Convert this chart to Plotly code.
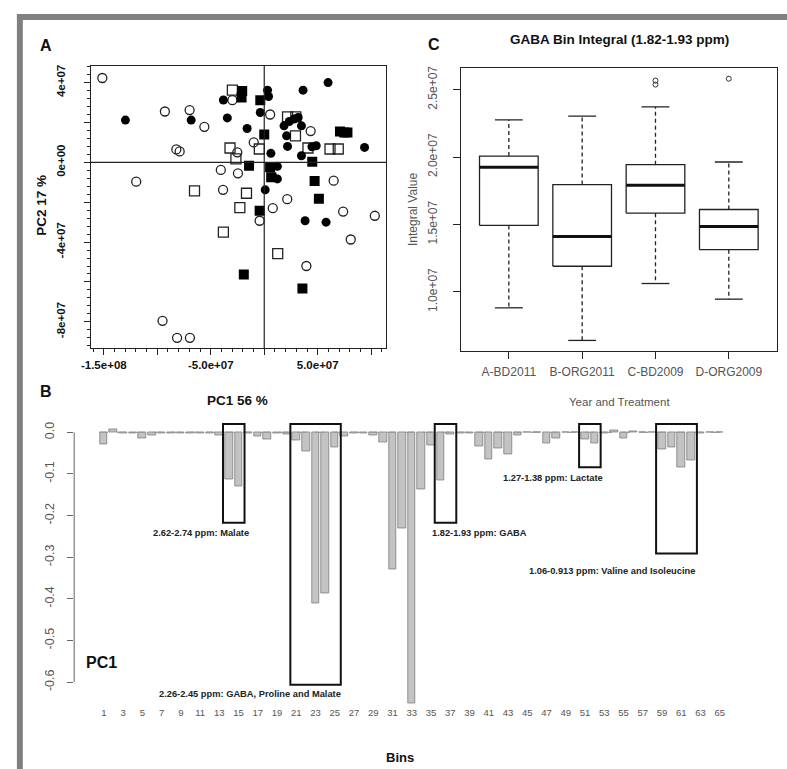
import plotly.graph_objects as go

W, H = 787, 769
FONT = "Liberation Sans, Arial, sans-serif"


def fx(p):
    return p / W


def fy(p):
    return 1 - p / H


# ---------------- Panel A: PCA scores ----------------
open_circle_pc1 = [-15.14e7, -9.29e7, -6.98e7, -5.60e7, -8.22e7, -7.91e7, -11.97e7, -9.51e7, -8.15e7,
                   -6.95e7, -4.06e7, -3.85e7, -2.52e7, -2.46e7, -0.98e7, 0.55e7, 4.34e7, 0.80e7,
                   2.15e7, -0.43e7, 6.49e7, 7.38e7, 10.34e7, 8.09e7, 3.94e7, -2.98e7]
open_circle_pc2 = [4.23e7, 2.55e7, 2.62e7, 1.78e7, 0.65e7, 0.55e7, -0.97e7, -7.95e7, -8.80e7,
                   -8.80e7, -0.38e7, -1.38e7, 0.50e7, -0.55e7, 1.00e7, 2.40e7, 1.57e7, -2.30e7,
                   -1.85e7, -2.93e7, -0.92e7, -2.47e7, -2.68e7, -3.87e7, -5.20e7, 3.12e7]

filled_circle_pc1 = [-12.98e7, -6.83e7, -3.82e7, -3.45e7, -1.60e7, 0.31e7, 0.40e7, -0.37e7, 3.63e7,
                     5.97e7, 1.85e7, 2.34e7, 2.77e7, 3.17e7, 3.48e7, 2.09e7, 2.18e7, 4.46e7,
                     4.86e7, 3.48e7, 0.62e7, 1.23e7, 0.86e7, 1.23e7, 0.09e7, 9.38e7, 3.82e7, 5.78e7]
filled_circle_pc2 = [2.12e7, 2.12e7, 3.13e7, 2.23e7, 1.70e7, 3.62e7, 3.30e7, 2.50e7, 3.62e7,
                     4.00e7, 1.83e7, 2.05e7, 2.17e7, 2.25e7, 1.83e7, 1.33e7, 0.80e7, 0.78e7,
                     0.83e7, 0.33e7, 0.45e7, -0.20e7, -0.75e7, -0.83e7, -1.38e7, 0.75e7, -2.93e7, -3.00e7]

filled_square_pc1 = [-2.06e7, -2.12e7, -0.37e7, 0.00e7, -1.42e7, 0.55e7, 0.65e7, 4.49e7, 4.71e7,
                     5.11e7, -0.43e7, -1.91e7, 3.57e7, 7.08e7, 7.48e7, 7.78e7]
filled_square_pc2 = [3.58e7, 3.25e7, 3.12e7, 1.40e7, -0.17e7, -0.25e7, -0.75e7, 0.03e7, -0.93e7,
                     -1.83e7, -2.43e7, -5.63e7, -6.33e7, 1.55e7, 1.50e7, 1.50e7]

open_square_pc1 = [-2.98e7, -3.20e7, -2.65e7, -0.46e7, -6.52e7, -1.66e7, -2.28e7, -3.82e7, 1.26e7,
                   2.18e7, 2.95e7, 2.92e7, 6.15e7, 6.92e7, 4.09e7]
open_square_pc2 = [3.62e7, 0.72e7, 0.17e7, 0.67e7, -1.43e7, -1.55e7, -2.27e7, -3.50e7, -4.58e7,
                   2.28e7, 2.28e7, 1.33e7, 0.67e7, 0.67e7, 0.72e7]

pc1_ticks = [-1.5e8, -1e8, -5e7, 0, 5e7, 1e8]
pc1_labels = ["-1.5e+08", "", "-5.0e+07", "", "5.0e+07", ""]
pc2_ticks = [-8e7, -6e7, -4e7, -2e7, 0, 2e7, 4e7]
pc2_labels = ["-8e+07", "", "-4e+07", "", "0e+00", "", "4e+07"]

# ---------------- Panel B: PC1 loadings per bin ----------------
bins = list(range(1, 66))
pc1_loadings = [
    -0.028, 0.008, -0.003, -0.002, -0.015, -0.007, -0.002, -0.002, -0.002, -0.002,
    -0.002, -0.002, -0.007, -0.114, -0.131, -0.002, -0.009, -0.018, -0.002, -0.006,
    -0.019, -0.045, -0.410, -0.387, -0.037, -0.010, -0.002, -0.002, -0.008, -0.023,
    -0.329, -0.231, -0.650, -0.137, -0.032, -0.116, -0.006, -0.002, -0.002, -0.034,
    -0.064, -0.039, -0.052, -0.008, -0.001, -0.001, -0.026, -0.015, -0.001, -0.001,
    -0.018, -0.026, -0.002, 0.004, -0.015, 0.002, -0.001, -0.001, -0.040, -0.036,
    -0.083, -0.068, -0.002, -0.001, -0.001,
]
bin_ticks = list(range(1, 66, 2))
loading_ticks = [0.0, -0.1, -0.2, -0.3, -0.4, -0.5, -0.6]
loading_labels = ["0.0", "-0.1", "-0.2", "-0.3", "-0.4", "-0.5", "-0.6"]

# highlighted spectral regions: (first bin, last bin, lower edge, label)
regions = [
    (14, 15, -0.217, "2.62-2.74 ppm: Malate"),
    (21, 25, -0.606, "2.26-2.45 ppm: GABA, Proline and Malate"),
    (36, 37, -0.217, "1.82-1.93 ppm: GABA"),
    (51, 52, -0.084, "1.27-1.38 ppm: Lactate"),
    (59, 62, -0.291, "1.06-0.913 ppm: Valine and Isoleucine"),
]
region_label_px = [(193, 532), (243, 694), (476, 532), (550, 477), (610, 570)]

# ---------------- Panel C: GABA bin integral boxplots ----------------
groups = ["A-BD2011", "B-ORG2011", "C-BD2009", "D-ORG2009"]
whisker_low = [8.82e6, 6.40e6, 10.62e6, 9.46e6]
q1 = [14.93e6, 11.90e6, 15.84e6, 13.13e6]
median = [19.24e6, 14.11e6, 17.91e6, 14.85e6]
q3 = [20.07e6, 17.96e6, 19.43e6, 16.11e6]
whisker_high = [22.76e6, 23.03e6, 23.72e6, 19.63e6]
outlier_group = [3, 3, 4]
outlier_value = [25.67e6, 25.37e6, 25.81e6]
integral_ticks = [1.0e7, 1.5e7, 2.0e7, 2.5e7]
integral_labels = ["1.0e+07", "1.5e+07", "2.0e+07", "2.5e+07"]

fig = go.Figure()

# ----- A -----
fig.add_trace(go.Scatter(x=open_circle_pc1, y=open_circle_pc2, mode="markers", xaxis="x", yaxis="y",
                         marker=dict(symbol="circle-open", color="#222", line=dict(width=1.3), size=9)))
fig.add_trace(go.Scatter(x=open_square_pc1, y=open_square_pc2, mode="markers", xaxis="x", yaxis="y",
                         marker=dict(symbol="square-open", color="#222", line=dict(width=1.3), size=10)))
fig.add_trace(go.Scatter(x=filled_circle_pc1, y=filled_circle_pc2, mode="markers", xaxis="x", yaxis="y",
                         marker=dict(symbol="circle", color="#000", size=9)))
fig.add_trace(go.Scatter(x=filled_square_pc1, y=filled_square_pc2, mode="markers", xaxis="x", yaxis="y",
                         marker=dict(symbol="square", color="#000", size=10)))

# ----- B -----
fig.add_trace(go.Scatter(x=[0.5, 65.5], y=[0, 0], mode="lines", xaxis="x3", yaxis="y3",
                         line=dict(color="#9a9a9a", width=1.2, dash="dash")))
fig.add_trace(go.Bar(x=bins, y=pc1_loadings, xaxis="x3", yaxis="y3", width=0.8,
                     marker=dict(color="#c3c3c3", line=dict(color="#7d7d7d", width=0.8))))

# ----- C -----
box_x, box_y, med_x, med_y = [], [], [], []
wh_x, wh_y, cap_x, cap_y = [], [], [], []
for i in range(len(groups)):
    c = i + 1
    box_x += [c - 0.4, c + 0.4, c + 0.4, c - 0.4, c - 0.4, None]
    box_y += [q1[i], q1[i], q3[i], q3[i], q1[i], None]
    med_x += [c - 0.4, c + 0.4, None]
    med_y += [median[i], median[i], None]
    wh_x += [c, c, None, c, c, None]
    wh_y += [q3[i], whisker_high[i], None, q1[i], whisker_low[i], None]
    cap_x += [c - 0.19, c + 0.19, None, c - 0.19, c + 0.19, None]
    cap_y += [whisker_high[i], whisker_high[i], None, whisker_low[i], whisker_low[i], None]

fig.add_trace(go.Scatter(x=wh_x, y=wh_y, mode="lines", xaxis="x2", yaxis="y2",
                         line=dict(color="#222", width=1.3, dash="4px,3px")))
fig.add_trace(go.Scatter(x=cap_x, y=cap_y, mode="lines", xaxis="x2", yaxis="y2",
                         line=dict(color="#222", width=1.3)))
fig.add_trace(go.Scatter(x=box_x, y=box_y, mode="lines", xaxis="x2", yaxis="y2",
                         line=dict(color="#222", width=1.3)))
fig.add_trace(go.Scatter(x=med_x, y=med_y, mode="lines", xaxis="x2", yaxis="y2",
                         line=dict(color="#111", width=3)))
fig.add_trace(go.Scatter(x=outlier_group, y=outlier_value, mode="markers", xaxis="x2", yaxis="y2",
                         marker=dict(symbol="circle-open", size=5, color="#333", line=dict(width=1))))

tick_bold = dict(family=FONT, size=11.5, color="#111", weight="bold")
tick_grey = dict(family=FONT, size=12, color="#555")
box_axis = dict(showline=True, mirror=True, linecolor="#222", linewidth=1.3,
                showgrid=False, zeroline=False, ticks="outside", tickcolor="#222")

fig.update_layout(
    width=W, height=H, margin=dict(l=0, r=0, t=0, b=0),
    paper_bgcolor="white", plot_bgcolor="white", showlegend=False, bargap=0,
    xaxis=dict(domain=[fx(81.7), fx(381)], range=[-1.623e8, 1.14e8], anchor="y",
               tickmode="array", tickvals=pc1_ticks, ticktext=pc1_labels, ticklen=6,
               tickfont=tick_bold, ticklabelstandoff=0,
               minor=dict(ticks="outside", dtick=1e7, tick0=0, ticklen=3, tickcolor="#222"),
               **box_axis),
    yaxis=dict(domain=[fy(346.7), fy(63.3)], range=[-9.33e7, 4.83e7], anchor="x",
               tickmode="array", tickvals=pc2_ticks, ticktext=pc2_labels, ticklen=6,
               tickangle=-90, tickfont=tick_bold, ticklabelstandoff=14,
               minor=dict(ticks="outside", dtick=4e6, tick0=0, ticklen=3, tickcolor="#222"),
               **box_axis),
    xaxis2=dict(domain=[fx(456.7), fx(776.7)], range=[0.346, 4.655], anchor="y2",
                tickmode="array", tickvals=[1, 2, 3, 4], ticktext=groups, ticklen=7,
                ticklabelstandoff=3,
                tickfont=dict(family=FONT, size=12, color="#555"), **box_axis),
    yaxis2=dict(domain=[fy(349.3), fy(65.7)], range=[5.62e6, 2.657e7], anchor="x2",
                tickmode="array", tickvals=integral_ticks, ticktext=integral_labels, ticklen=7,
                tickangle=-90, tickfont=tick_grey, ticklabelstandoff=11, **box_axis),
    xaxis3=dict(domain=[fx(65), fx(740)], range=[-2.08, 67.16], anchor="y3",
                tickmode="array", tickvals=bin_ticks, ticks="", showline=False,
                showgrid=False, zeroline=False,
                tickfont=dict(family=FONT, size=9.5, color="#555")),
    yaxis3=dict(domain=[fy(705), fy(415)], range=[-0.6555, 0.0383], anchor="x3",
                tickmode="array", tickvals=loading_ticks, ticktext=loading_labels,
                ticks="outside", ticklen=6, tickcolor="#666", tickangle=-90,
                ticklabelstandoff=8,
                showline=False, showgrid=False, zeroline=False,
                tickfont=dict(family=FONT, size=12.5, color="#555")),
)

shapes = []
# crossing lines through the origin of the score plot
shapes.append(dict(type="line", xref="x", yref="y domain", x0=0, x1=0, y0=0, y1=1,
                   line=dict(color="#222", width=1.2)))
shapes.append(dict(type="line", xref="x domain", yref="y", x0=0, x1=1, y0=0, y1=0,
                   line=dict(color="#222", width=1.2)))
# loading axis line spans only the labelled range
shapes.append(dict(type="line", xref="paper", yref="y3", x0=fx(65), x1=fx(65),
                   y0=loading_ticks[0], y1=loading_ticks[-1], line=dict(color="#666", width=1)))
# highlighted regions
for first, last, low, _ in regions:
    shapes.append(dict(type="rect", xref="x3", yref="y3", x0=first - 0.62, x1=last + 0.62,
                       y0=low, y1=0.02, line=dict(color="#111", width=2), fillcolor="rgba(0,0,0,0)"))
# grey figure frame
shapes.append(dict(type="rect", xref="paper", yref="paper", x0=fx(7), x1=fx(13), y0=0, y1=fy(11),
                   line=dict(width=0), fillcolor="#808080", layer="below"))
shapes.append(dict(type="rect", xref="paper", yref="paper", x0=fx(7), x1=1, y0=fy(17), y1=fy(11),
                   line=dict(width=0), fillcolor="#808080", layer="below"))
fig.update_layout(shapes=shapes)


def note(text, x, y, size, bold=True, color="#111", angle=0):
    f = dict(family=FONT, size=size, color=color)
    if bold:
        f["weight"] = "bold"
    return dict(text=text, x=fx(x), y=fy(y), xref="paper", yref="paper", showarrow=False,
                xanchor="center", yanchor="middle", font=f, textangle=angle)


annotations = [
    note("A", 36, 43, 16),
    note("B", 36, 390, 16),
    note("C", 429, 42, 16),
    note("GABA Bin Integral (1.82-1.93 ppm)", 617, 37, 13.5),
    note("Integral Value", 408, 207, 12, bold=False, color="#555", angle=-90),
    note("Year and Treatment", 617, 401, 11.5, bold=False, color="#555"),
    note("PC1 56 %", 230, 399, 13.5),
    note("PC2 17 %", 32, 203, 13.5, angle=-90),
    note("PC1", 93, 662, 16),
    note("Bins", 395, 757, 13),
]
for (first, last, low, label), (lx, ly) in zip(regions, region_label_px):
    annotations.append(note(label, lx, ly, 9.3, color="#222"))
fig.update_layout(annotations=annotations)

fig.write_html("out.html")
